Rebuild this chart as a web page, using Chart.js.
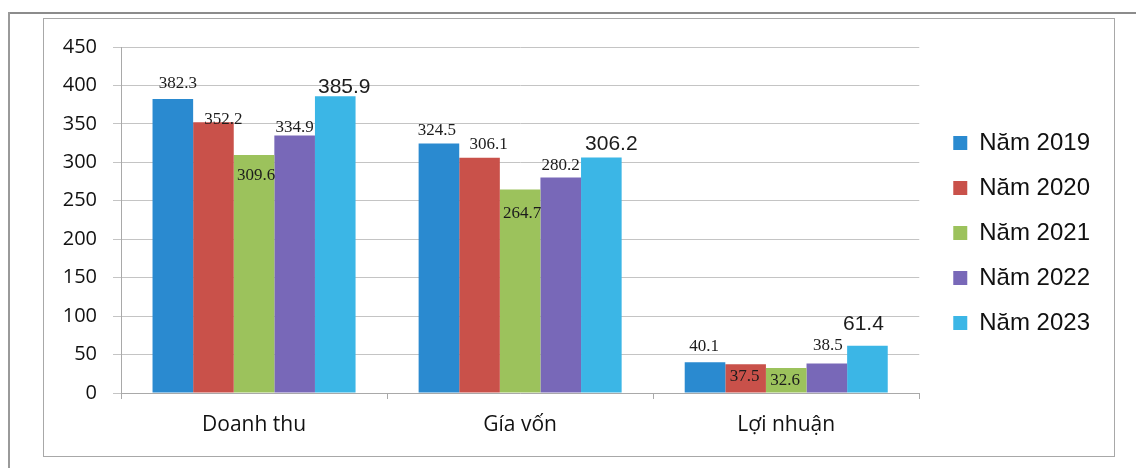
<!DOCTYPE html>
<html>
<head>
<meta charset="utf-8">
<script src="https://cdn.jsdelivr.net/npm/chart.js@4.4.0/dist/chart.umd.min.js"></script>
<style>
  html, body { margin: 0; padding: 0; background: #fff; }
  #wrap { position: relative; width: 1136px; height: 468px; overflow: hidden; background: #fff; }
  .line { position: absolute; }
  #outerTop { left: 9px; top: 12px; width: 1127px; height: 0; border-top: 2px solid #8c8c8c; }
  #outerLeft { left: 8px; top: 12px; width: 0; height: 456px; border-left: 2px solid #9a9a9a; }
  #inner { position: absolute; left: 43px; top: 18px; width: 1070px; height: 437px; border: 1px solid #a8a8a8; }
  canvas { position: absolute; left: 0; top: 0; }
</style>
</head>
<body>
<div id="wrap">
  <div class="line" id="outerTop"></div>
  <div class="line" id="outerLeft"></div>
  <div id="inner"></div>
  <canvas id="chart" width="1136" height="468"></canvas>
</div>
<script>
const categories = ['Doanh thu', 'Gía vốn', 'Lợi nhuận'];
const years = ['Năm 2019', 'Năm 2020', 'Năm 2021', 'Năm 2022', 'Năm 2023'];
const v2019 = [382.3, 324.5, 40.1];
const v2020 = [352.2, 306.1, 37.5];
const v2021 = [309.6, 264.7, 32.6];
const v2022 = [334.9, 280.2, 38.5];
const v2023 = [385.9, 306.2, 61.4];
const yMin = 0, yMax = 450, yStep = 50;

const colors = ['#2a8ad0', '#c9514a', '#9cc25c', '#7868b8', '#3bb6e6'];

// label nudges [dx, dy] relative to the bar top, per year then per category
const labelNudge = [
  [[5, -16], [-2, -13], [-1, -16]],
  [[10, -3], [9, -13], [-1, 12]],
  [[2, 21], [2, 24], [-1, 13]],
  [[0, -8], [0, -12], [1, -18]],
  [[9, -9], [10, -13], [-4, -22]]
];

const gridColor = '#c4c4c4';

const valueLabels = {
  id: 'valueLabels',
  afterDatasetsDraw(chart) {
    const ctx = chart.ctx;
    ctx.save();
    ctx.textAlign = 'center';
    ctx.textBaseline = 'middle';
    chart.data.datasets.forEach((ds, i) => {
      const meta = chart.getDatasetMeta(i);
      ctx.font = i === 4 ? '21px "Liberation Sans"' : '17px "Liberation Serif"';
      ctx.fillStyle = '#1c1c1c';
      meta.data.forEach((bar, j) => {
        const n = labelNudge[i][j];
        ctx.fillText(ds.data[j].toFixed(1), bar.x + n[0], bar.y + n[1]);
      });
    });
    ctx.restore();
  }
};

const seriesValues = [v2019, v2020, v2021, v2022, v2023];

// empty boxes used only as spacers in the layout
const spacer = (pos, size) => ({
  type: pos === 'top' ? 'category' : 'linear',
  position: pos,
  display: true,
  grid: { display: false },
  border: { display: false },
  ticks: { display: false },
  afterFit(s) { if (pos === 'top') s.height = size; else s.width = size; }
});

new Chart(document.getElementById('chart'), {
  type: 'bar',
  data: {
    labels: categories,
    datasets: years.map((y, i) => ({
      label: y,
      data: seriesValues[i],
      backgroundColor: colors[i],
      borderWidth: 0,
      categoryPercentage: 0.763,
      barPercentage: 1.0
    }))
  },
  options: {
    responsive: false,
    animation: false,
    layout: { padding: { left: 44, top: 29, right: 36, bottom: 31 } },
    plugins: {
      legend: {
        position: 'right',
        labels: {
          boxWidth: 14,
          boxHeight: 14,
          padding: 21,
          color: '#111',
          font: { family: '"Liberation Sans", Arial, sans-serif', size: 24 }
        }
      },
      tooltip: { enabled: false }
    },
    scales: {
      x: {
        grid: { display: true, drawOnChartArea: false, drawTicks: true, tickLength: 6, color: '#a9a9a9', offset: true },
        border: { display: true, color: '#a9a9a9' },
        ticks: { color: '#111', padding: 13, font: { family: '"Open Sans", sans-serif', size: 21 } },
        afterFit(s) { s.height = 44; }
      },
      y: {
        min: yMin,
        max: yMax,
        grid: { color: gridColor, tickLength: 8 },
        border: { display: true, color: '#a9a9a9' },
        ticks: { stepSize: yStep, color: '#111', padding: 16, font: { family: '"Open Sans", sans-serif', size: 20 } },
        afterFit(s) { s.width = 77; }
      },
      gapTop: spacer('top', 18),
      gapRight: spacer('right', 13)
    }
  },
  plugins: [valueLabels]
});
</script>
</body>
</html>
